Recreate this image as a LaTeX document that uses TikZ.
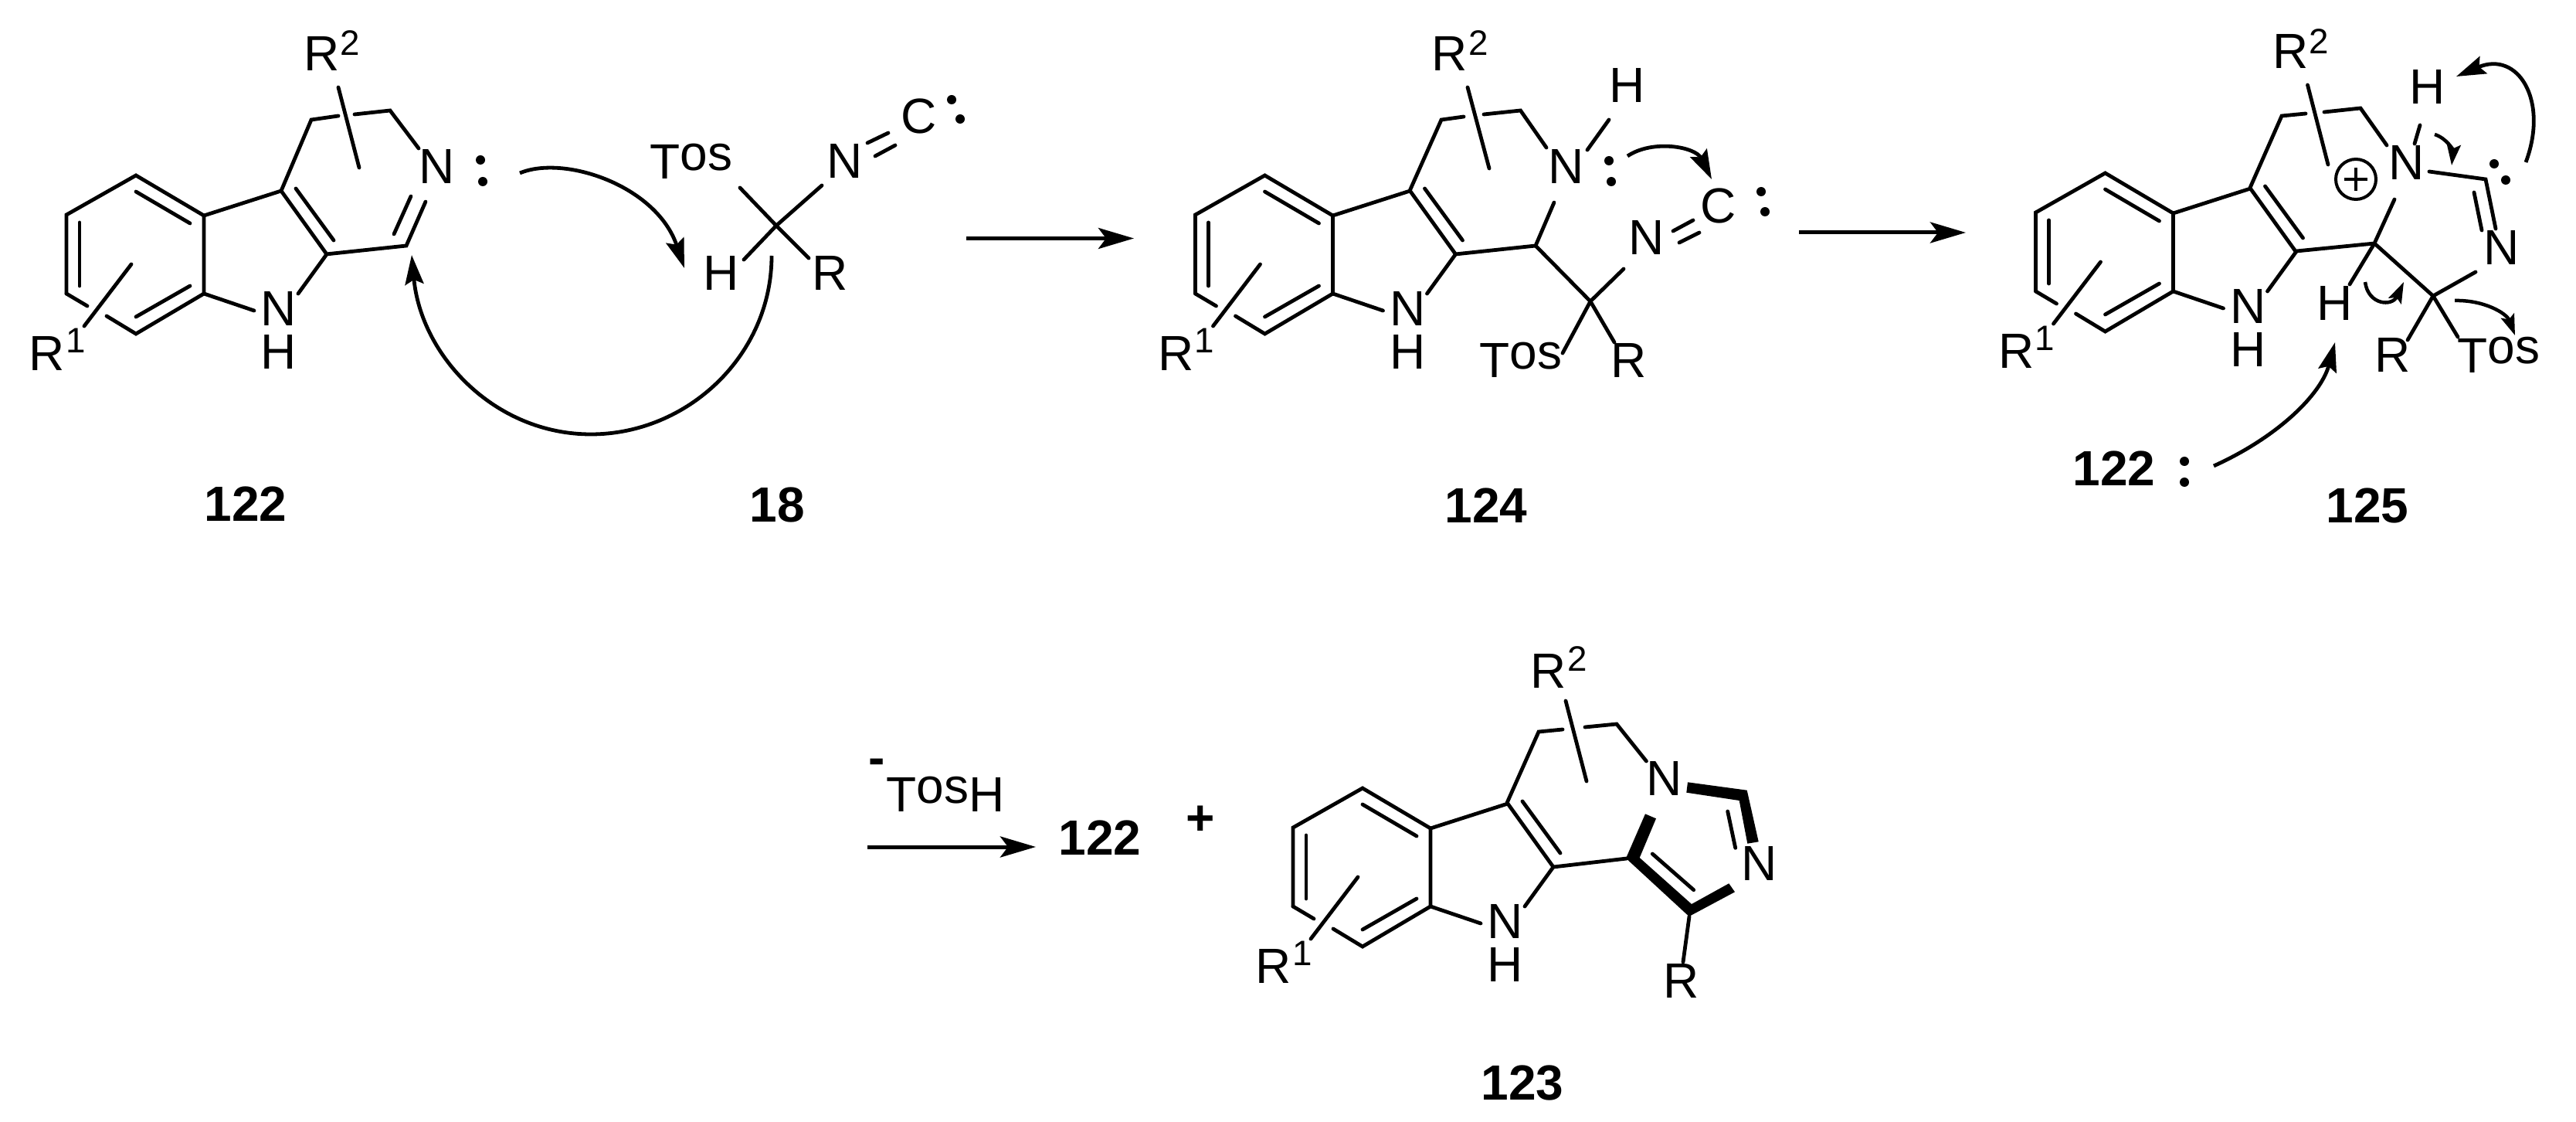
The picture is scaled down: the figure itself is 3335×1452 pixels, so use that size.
\documentclass[tikz,border=0pt]{standalone}
\usepackage{fontspec}
\setmainfont{Liberation Sans}
\usetikzlibrary{arrows.meta}
\newcommand{\tosgroup}{T\raisebox{0.115cm}{os}}
\tikzset{
  bond/.style={line width=0.048cm, line cap=round, line join=miter},
  atom/.style={inner sep=0pt, font=\fontsize{18.2}{20}\selectfont},
  supr/.style={inner sep=0pt, font=\fontsize{13}{15}\selectfont},
  lab/.style={inner sep=0pt, font=\fontsize{18.2}{20}\selectfont\bfseries},
  dotmark/.style={fill=black, draw=none},
  rxnarrow/.style={line width=0.05cm, -{Stealth[length=0.46cm,width=0.27cm,inset=0.1cm]}},
  curvearrow/.style={line width=0.048cm, -{Stealth[length=0.38cm,width=0.24cm,inset=0.06cm]}},
  smallarrow/.style={line width=0.045cm, -{Stealth[length=0.27cm,width=0.18cm,inset=0.05cm]}},
}
% indole core with ring substituent R1; #1,#2 top of the benzene ring, #3 name prefix
\newcommand{\indolecore}[3]{%
  \begin{scope}[shift={(#1,#2)}]
    \draw[bond] (-90,153) -- (-90,51) -- (0,0) -- (88,52) -- (88,153) -- (0,205) -- (-38,182);
    \draw[bond] (-90,153) -- (-63,169);
    \draw[bond] (0,21) -- (70,62);
    \draw[bond] (0,183) -- (70,143);
    \draw[bond] (-73,61) -- (-73,143);
    \draw[bond] (88,52) -- (188,20) -- (247,102) -- (210,153);
    \draw[bond] (207,17) -- (256,84);
    \draw[bond] (88,153) -- (153,175);
    \draw[bond] (-6,115) -- (-67,195);
    \node[atom] (#3N) at (185,172) {N};
    \node[atom] (#3H) at (185,228) {H};
    \node[atom] (#3R) at (-115,230) {R};
    \node[supr] (#3Rs) at (-78,214) {1};
  \end{scope}}
\newcommand{\lonepair}[4]{%
  \fill[dotmark] (#1,#2) circle (6);
  \fill[dotmark] (#3,#4) circle (6);}
\begin{document}
\begin{tikzpicture}[x=0.01cm,y=-0.01cm]
\useasboundingbox (0,0) rectangle (3335,1452);
\fill[white] (0,0) rectangle (3335,1452);

%% ---------- 122 ----------
\indolecore{176}{227}{a}
\draw[bond] (364,247) -- (403,155) -- (438,150);
\draw[bond] (459,148) -- (505,143) -- (542,192);
\draw[bond] (422,329) -- (526,318) -- (551,261);
\draw[bond] (510,303) -- (532,254);
\draw[bond] (438,113) -- (465,217);
\node[atom] (aN2) at (566,215) {N};
\node[atom] (aR2) at (417,69) {R};
\node[supr] (aR2s) at (453,56) {2};
\lonepair{622}{207}{625}{235}
\node[lab] (l122) at (318,652) {122};

%% ---------- 18 ----------
\coordinate (tsC) at (1005,292);
\draw[bond] (958,243) -- (tsC) -- (1047,334);
\draw[bond] (1064,240) -- (tsC) -- (963,336);
\node[atom] (tsTos) at (895,209) {\tosgroup};
\node[atom] (tsH) at (934,353) {H};
\node[atom] (tsR) at (1075,353) {R};
\node[atom] (tsN) at (1094,208) {N};
\node[atom] (tsCC) at (1190,150) {C};
\draw[bond] (1123,185) -- (1150,172);
\draw[bond] (1133,202) -- (1159,188);
\lonepair{1232}{129}{1243}{154}
\node[lab] (l18) at (1006,653) {18};

\draw[curvearrow] (673,224) .. controls (730,200) and (850,240) .. (886,347);
\draw[curvearrow] (999,331) .. controls (999,460) and (890,562) .. (765,562)
   .. controls (640,562) and (545,460) .. (533,330);

\coordinate (ar1s) at (1251,308.5);
\coordinate (ar1e) at (1468,308.5);
\draw[rxnarrow] (ar1s) -- (ar1e);

%% ---------- 124 ----------
\indolecore{1637.5}{227}{b}
\draw[bond] (1825,247) -- (1866,155) -- (1895,151);
\draw[bond] (1921,148) -- (1968.5,143) -- (2002,191);
\draw[bond] (1884,329) -- (1988,318) -- (2012,262);
\draw[bond] (1988,318) -- (2059,390) -- (2102,348);
\draw[bond] (2059,390) -- (2023,457);
\draw[bond] (2059,390) -- (2090,443);
\draw[bond] (2055,194) -- (2083,155);
\draw[bond] (1900,113) -- (1928,218);
\node[atom] (bN2) at (2028,215) {N};
\node[atom] (bHN) at (2107,110) {H};
\node[atom] (bR2) at (1877,69) {R};
\node[supr] (bR2s) at (1914,56) {2};
\node[atom] (bTos) at (1969,466) {\tosgroup};
\node[atom] (bRR) at (2109,466) {R};
\node[atom] (bN3) at (2132,307) {N};
\node[atom] (bC) at (2225,266) {C};
\draw[bond] (2192,285) -- (2166,299);
\draw[bond] (2200,301) -- (2174,314);
\lonepair{2083}{208}{2086}{235}
\lonepair{2280}{248}{2285}{274}
\draw[curvearrow] (2107,202) .. controls (2140,180) and (2195,190) .. (2216,232);
\node[lab] (l124) at (1924,654) {124};

\coordinate (ar2s) at (2329,301);
\coordinate (ar2e) at (2545,301);
\draw[rxnarrow] (ar2s) -- (ar2e);

%% ---------- 125 ----------
\indolecore{2725.5}{224}{c}
\draw[bond] (2913,243) -- (2954,150) -- (2985,147);
\draw[bond] (3009,145) -- (3056,140) -- (3090,188);
\draw[bond] (2973,325) -- (3074,315) -- (3100,258);
\draw[bond] (3074,315) -- (3042,368);
\draw[bond] (3074,315) -- (3150,383) -- (3205,352);
\draw[bond] (3150,383) -- (3117,440);
\draw[bond] (3150,383) -- (3182,436);
\draw[bond] (3145,222) -- (3218,232) -- (3231,296);
\draw[bond] (3203,249) -- (3213,298);
\draw[bond] (3133,162) -- (3126,186);
\draw[bond] (2987.5,110) -- (3014,213);
\node[atom] (cN2) at (3116,210) {N};
\node[atom] (cN3) at (3239,320) {N};
\node[atom] (cHC) at (3023,392) {H};
\node[atom] (cHN) at (3143,112) {H};
\node[atom] (cRR) at (3098,459) {R};
\node[atom] (cTos) at (3235,459.5) {\tosgroup};
\node[atom] (cR2) at (2966,66) {R};
\node[supr] (cR2s) at (3002,54) {2};
\draw[line width=0.04cm] (3050,232) circle (26);
\draw[line width=0.04cm] (3035,232) -- (3065,232) (3050,217) -- (3050,247);
\lonepair{3229}{212}{3244}{233}
\draw[curvearrow] (3270,210) .. controls (3300,130) and (3260,65) .. (3180,99);
\draw[smallarrow] (3152,174) .. controls (3168,179) and (3176,195) .. (3174,214);
\draw[smallarrow] (3062,365) .. controls (3066,395) and (3097,397) .. (3112,365);
\draw[smallarrow] (3178,389) .. controls (3215,388) and (3245,405) .. (3256,434);
\draw[curvearrow] (2866,603) .. controls (2950,565) and (3005,510) .. (3023,443);
\node[lab] (l122b) at (2737,606) {122};
\lonepair{2828}{597}{2828}{624}
\node[lab] (l125) at (3065,654) {125};

%% ---------- bottom row ----------
\node[lab] (minus) at (1135,992) {-};
\node[atom] (tosH) at (1224,1028) {\tosgroup H};
\coordinate (ar3s) at (1123,1096);
\coordinate (ar3e) at (1341,1096);
\draw[rxnarrow] (ar3s) -- (ar3e);
\node[lab] (l122c) at (1424,1084) {122};
\node[lab] (plus) at (1554,1062) {+};

%% ---------- 123 ----------
\indolecore{1764}{1020}{d}
\draw[bond] (1951,1039) -- (1992,947) -- (2023,944);
\draw[bond] (2052,941) -- (2093,937) -- (2131.4,985);
\draw[bond] (2011,1122) -- (2106,1111);
\draw[bond] (2027,907) -- (2054,1011);
\fill (2185,1012.3) -- (2261.7,1022.7) -- (2276.7,1089.3) -- (2262.3,1091.7)
   -- (2251.7,1036) -- (2183.3,1025.7) -- cycle;
\fill (2130,1053.3) -- (2144,1059.3) -- (2122.7,1110) -- (2190,1170) -- (2238.3,1143.3)
   -- (2246,1154.3) -- (2186.7,1186) -- (2105,1110.7) -- cycle;
\draw[bond] (2236.7,1050) -- (2246.7,1097.3);
\draw[bond] (2139.3,1105) -- (2192.7,1151.7);
\draw[bond] (2187,1186) -- (2179,1245);
\node[atom] (dN2) at (2155,1007) {N};
\node[atom] (dN3) at (2278,1117) {N};
\node[atom] (dRR) at (2177,1269.5) {R};
\node[atom] (dR2) at (2004.5,868) {R};
\node[supr] (dR2s) at (2042,853) {2};
\node[lab] (l123) at (1971,1401.5) {123};
\end{tikzpicture}
\end{document}
